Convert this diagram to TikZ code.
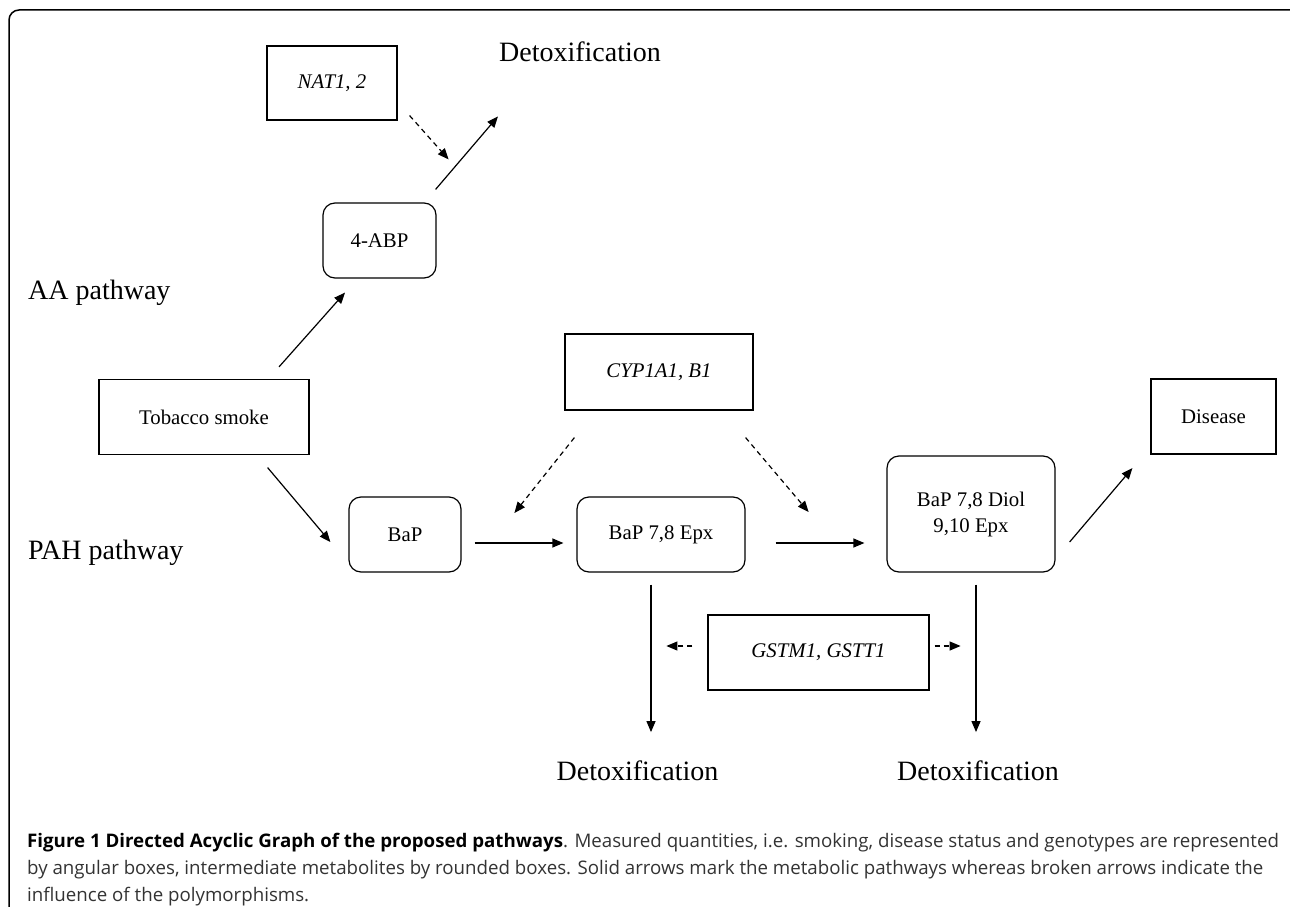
\documentclass[tikz,border=0pt]{standalone}
\usepackage{fontspec}
\setmainfont{Liberation Serif}
\newfontfamily\capfont{Open Sans}
\usepackage{tikz}
\usetikzlibrary{arrows.meta}
\newcommand{\Gene}[1]{\textit{#1}}
\tikzset{
    basebox/.style={draw, line width=1.2pt, inner sep=0pt, font=\fontsize{20.8}{26}\selectfont},
    measured/.style={basebox},
    metab/.style={basebox, rounded corners=12pt},
    big/.style={inner sep=0pt, font=\fontsize{28}{32}\selectfont},
    captext/.style={anchor=base west, inner sep=0pt, text=black!80, font=\capfont\fontsize{18.7}{27}\selectfont},
}

\begin{document}
\begin{tikzpicture}[x=1pt, y=-1pt]
    \tikzset{
      flow/.style={line width=1.2pt, -{Triangle[length=11pt, width=9pt]}},
      infl/.style={flow, dash pattern=on 5pt off 4pt},
    }
    \useasboundingbox (0,0) rectangle (1290,907);
    \draw[line width=1.5pt, rounded corners=10pt] (1290,10) -- (9,10) -- (9,907);

    % AA pathway
    \node[measured, minimum width=130pt, minimum height=74pt] (nat) at (332,83) {\Gene{NAT1, 2}};
    \node[big, anchor=base] (detoxA) at (580,62) {Detoxification};
    \node[metab, minimum width=113pt, minimum height=75pt] (abp) at (379.5,240.5) {4-ABP};
    \node[big, anchor=base west] (aa) at (28,299) {AA pathway};

    \node[measured, minimum width=210pt, minimum height=75pt] (tob) at (204,417) {Tobacco smoke};
    \node[measured, minimum width=188pt, minimum height=76pt] (cyp) at (659,372) {\Gene{CYP1A1, B1}};
    \node[measured, minimum width=125pt, minimum height=75pt] (dis) at (1213.5,416.5) {Disease};

    % PAH pathway
    \node[big, anchor=base west] (pah) at (28,559) {PAH pathway};
    \node[metab, minimum width=112pt, minimum height=75pt] (bap) at (405,534.5) {BaP};
    \node[metab, minimum width=168pt, minimum height=75pt] (epx) at (661,534.5) {BaP 7,8 Epx};
    \node[metab, minimum width=168pt, minimum height=116pt, align=center] (diol) at (971,514) {BaP 7,8 Diol\\9,10 Epx};
    \node[measured, minimum width=221pt, minimum height=75pt] (gst) at (818.5,652.5) {\Gene{GSTM1, GSTT1}};
    \node[big, anchor=base] (detoxB) at (637.5,780) {Detoxification};
    \node[big, anchor=base] (detoxC) at (978,780) {Detoxification};

    \draw[flow] ([xshift=75pt, yshift=12pt]tob.north) -- ([xshift=-34.5pt, yshift=-14pt]abp.south);
    \draw[flow] ([xshift=-1pt, yshift=13pt]abp.north east) -- ([xshift=-1pt, yshift=-54pt]detoxA.south west);
    \draw[infl] ([xshift=12pt, yshift=5pt]nat.south east) -- ([xshift=12pt, yshift=43pt]abp.north east);

    \draw[flow] ([xshift=-42pt, yshift=-12.5pt]tob.south east) -- ([xshift=-18pt, yshift=-7.5pt]bap.west);
    \draw[flow] ([xshift=13pt, yshift=-8.5pt]bap.east) -- ([xshift=-13pt, yshift=-8.5pt]epx.west);
    \draw[flow] ([xshift=30pt, yshift=-8.5pt]epx.east) -- ([xshift=-22pt, yshift=-29pt]diol.west);
    \draw[flow] ([xshift=14pt, yshift=-28pt]diol.east) -- ([xshift=-18pt, yshift=-13.5pt]dis.south west);
    \draw[infl] ([xshift=10pt, yshift=-27pt]cyp.south west) -- ([xshift=-62pt, yshift=21.5pt]epx.west);
    \draw[infl] ([xshift=-8pt, yshift=-27pt]cyp.south east) -- ([xshift=63pt, yshift=22.5pt]epx.east);

    \draw[flow] ([xshift=-10pt, yshift=-12pt]epx.south) -- ([xshift=13.5pt, yshift=28pt]detoxB.north);
    \draw[flow] ([xshift=5pt, yshift=-12pt]diol.south) -- ([xshift=-2pt, yshift=28pt]detoxC.north);
    \draw[infl] ([xshift=-15pt, yshift=6.5pt]gst.west) -- ([xshift=-41pt, yshift=6.5pt]gst.west);
    \draw[infl] ([xshift=5pt, yshift=6.5pt]gst.east) -- ([xshift=31pt, yshift=6.5pt]gst.east);

    % caption
    \node[captext] (cap1) at (27,847) {\textcolor{black}{\textbf{Figure 1 Directed Acyclic Graph of the proposed pathways}}. Measured quantities, i.e. smoking, disease status and genotypes are represented};
    \node[captext] (cap2) at (27,874) {by angular boxes, intermediate metabolites by rounded boxes. Solid arrows mark the metabolic pathways whereas broken arrows indicate the};
    \node[captext] (cap3) at (27,901) {influence of the polymorphisms.};
\end{tikzpicture}
\end{document}
